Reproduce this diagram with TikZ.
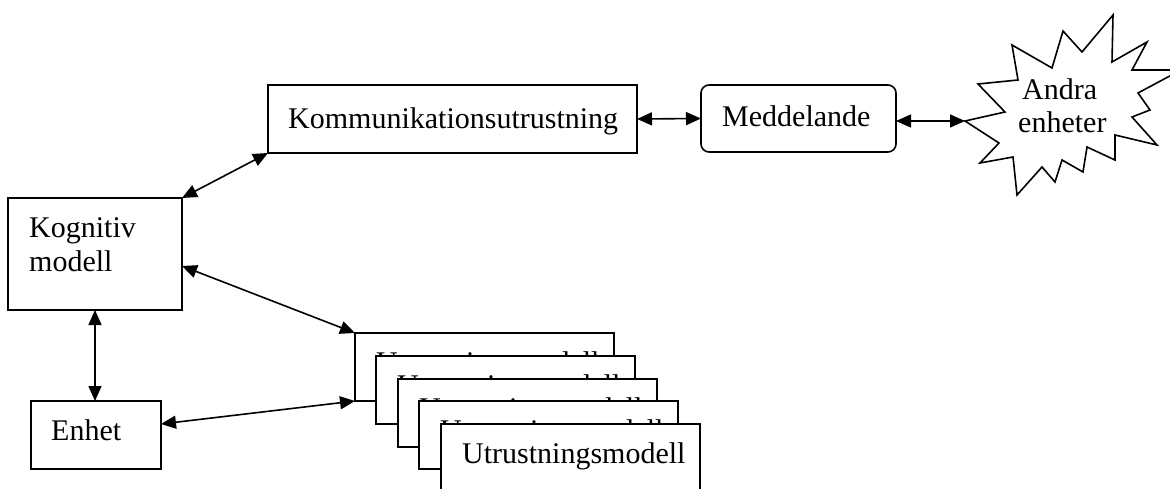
\documentclass[tikz,border=0pt]{standalone}
\usepackage{fontspec}
\setmainfont{Liberation Serif}
\usetikzlibrary{arrows.meta}
\begin{document}
\begin{tikzpicture}[x=1pt,y=-1pt,
  box/.style={draw, line width=1.6pt, fill=white, anchor=north west, inner sep=0pt, outer sep=0pt},
  txt/.style={anchor=base west, inner sep=0pt, font=\fontsize{30}{35}\selectfont},
  conn/.style={line width=1.6pt, {Triangle[length=15pt,width=13pt]}-{Triangle[length=15pt,width=13pt]}}
]
\useasboundingbox (0,0) rectangle (1170,489);
\clip (0,0) rectangle (1170,489);
\fill[white] (0,0) rectangle (1170,489);

% Kommunikationsutrustning
\node[box, minimum width=369pt, minimum height=68pt] (komm) at (268,85) {};
\node[txt] (kommt) at (288,129) {Kommunikationsutrustning};
% Meddelande
\node[box, rounded corners=8pt, minimum width=195pt, minimum height=67pt] (medd) at (701,85) {};
\node[txt] (meddt) at (722,127) {Meddelande};
% Kognitiv modell
\node[box, minimum width=174pt, minimum height=112pt] (kog) at (8,198) {};
\node[txt] (kogt1) at (29,237) {Kognitiv};
\node[txt] (kogt2) at (29,272) {modell};
% Enhet
\node[box, minimum width=130pt, minimum height=68pt] (enh) at (31,401) {};
\node[txt] (enht) at (51,440) {Enhet};
% Utrustningsmodell stack
\foreach \i/\x/\y in {1/355/333,2/376/356,3/398/379,4/419/401,5/441/424}{
  \node[box, minimum width=259pt, minimum height=68pt] (utr\i) at (\x,\y) {};
  \node[txt] (utrt\i) at ({\x+21},{\y+39}) {Utrustningsmodell};
}
% Star (Andra enheter)
\draw[line width=1.6pt, fill=white, line join=miter, miter limit=20]
  (965,121) -- (1005,112) -- (978,84) -- (1018,80) -- (1012,45) -- (1052,68)
  -- (1063,31) -- (1082,52) -- (1113,15) -- (1112,62) -- (1147,42) -- (1132,70)
  -- (1181,70) -- (1138,93) -- (1150,110) -- (1132,117) -- (1157,145)
  -- (1115,135) -- (1115,160) -- (1087,147) -- (1083,172) -- (1062,160)
  -- (1055,182) -- (1042,167) -- (1017,195) -- (1013,157) -- (980,163)
  -- (999,143) -- cycle;
\coordinate (startip) at (965,121);
\node[txt] (andra) at (1022,100) {Andra};
\node[txt] (enheter) at (1018,133) {enheter};

% Connectors
\draw[conn] (kog.north east) -- (komm.south west);
\draw[conn] (komm.east) -- (medd.west);
\draw[conn] (medd.east |- startip) -- (startip);
\draw[conn] (kog.south) -- (kog.south |- enh.north);
\draw[conn] ([yshift=-12pt]kog.east) -- (utr1.north west);
\draw[conn] ([yshift=11pt]enh.east) -- (utr1.south west);
\end{tikzpicture}
\end{document}
